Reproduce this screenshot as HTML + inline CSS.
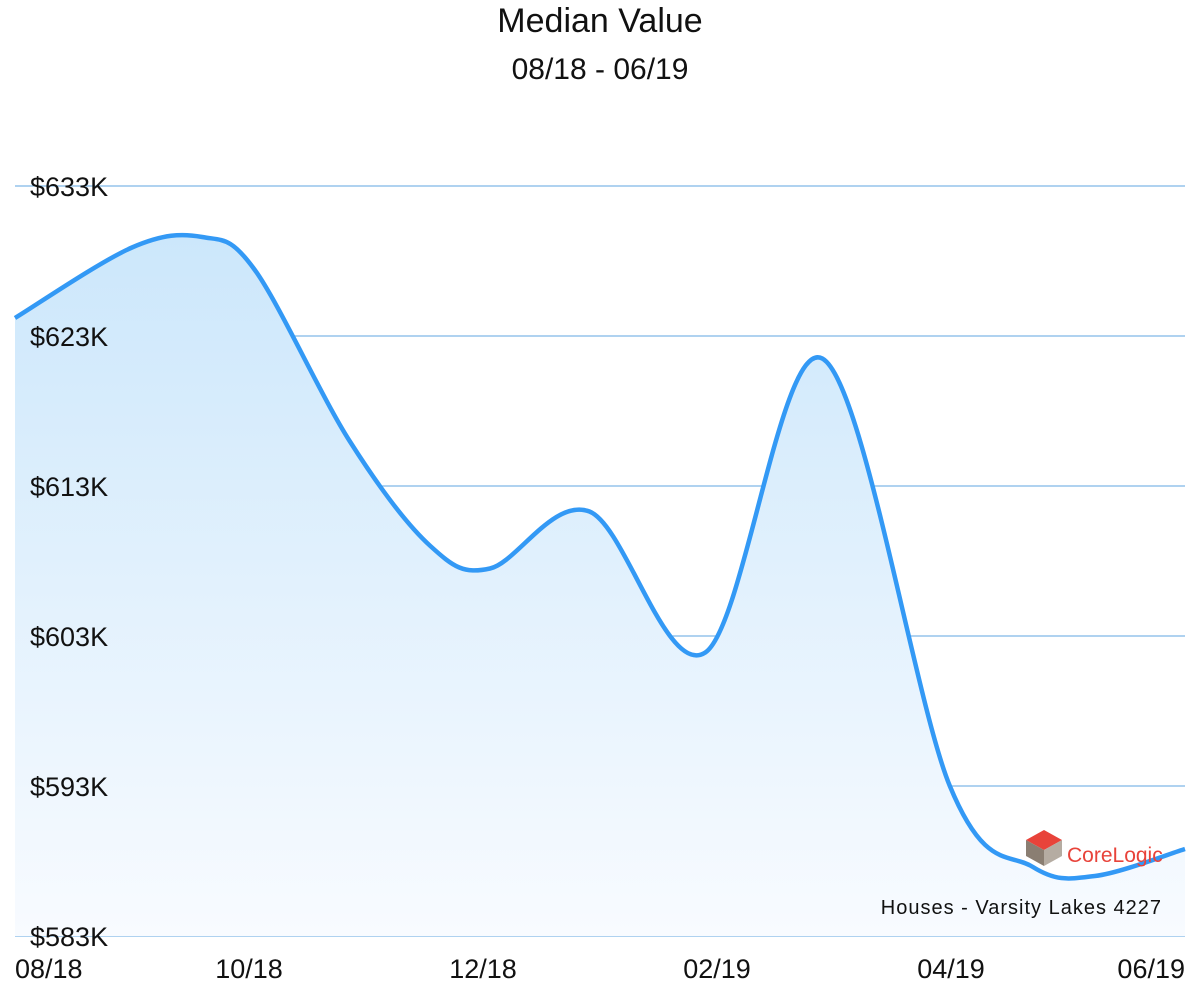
<!DOCTYPE html>
<html><head><meta charset="utf-8"><style>
body{margin:0;background:#fff;width:1200px;height:996px;overflow:hidden;font-family:"Liberation Sans",sans-serif;}
</style></head><body>
<svg width="1200" height="996" xmlns="http://www.w3.org/2000/svg">
<defs><linearGradient id="fg" x1="0" y1="0" x2="0" y2="1"><stop offset="0" stop-color="#cce7fb"/><stop offset="1" stop-color="#f8fbff"/></linearGradient></defs>
<text x="600" y="32" text-anchor="middle" font-size="34" fill="#111">Median Value</text>
<text x="600" y="79" text-anchor="middle" font-size="30" fill="#111">08/18 - 06/19</text>
<g id="grid"></g>
<path id="area" fill="url(#fg)"/>
<path id="line" fill="none" stroke="#3399f5" stroke-width="4.5"/>
<g id="ylabels"></g>
<g id="xlabels"></g>
<g>
<polygon points="1026,840 1044,830 1062,840 1044,850" fill="#e8433a"/>
<polygon points="1026,840 1044,850 1044,866 1026,856" fill="#8a7e72"/>
<polygon points="1044,850 1062,840 1062,856 1044,866" fill="#b5aca2"/>
<text x="1067" y="862" font-size="21" fill="#e8433a">CoreLogic</text>
</g>
<text x="1162" y="914" text-anchor="end" font-size="20" fill="#111" letter-spacing="1">Houses - Varsity Lakes 4227</text>
</svg>
<script>
const monthIdx=[0,1,1.6,2.05,2.86,3.55,4.06,4.91,5.9,6.9,7.99,8.7,9.23,10];
const values=[624.2,628.9,629.6,627.4,616.0,609.0,607.5,611.3,601.9,621.5,593.0,587.6,587.0,588.8];
const yTicks=[633,623,613,603,593,583];
const xTickIdx=[0,2,4,6,8,10];
const xTickLabels=["08/18","10/18","12/18","02/19","04/19","06/19"];
const NS="http://www.w3.org/2000/svg";
const x=i=>15+i*117;
const y=v=>186+(633-v)*15;
const g=document.getElementById('grid'),yl=document.getElementById('ylabels'),xl=document.getElementById('xlabels');
yTicks.forEach(t=>{
 const l=document.createElementNS(NS,'line');
 l.setAttribute('x1',15);l.setAttribute('x2',1185);l.setAttribute('y1',y(t));l.setAttribute('y2',y(t));
 l.setAttribute('stroke','#7fb8e6');l.setAttribute('stroke-width','1.2');
 
 
 g.appendChild(l);
 const tx=document.createElementNS(NS,'text');
 tx.setAttribute('x',30);tx.setAttribute('y',y(t)+10);tx.setAttribute('font-size','27');tx.setAttribute('fill','#111');
 tx.textContent='$'+t+'K';
 
 
 yl.appendChild(tx);
});
xTickIdx.forEach((m,k)=>{
 const tx=document.createElementNS(NS,'text');
 const anchor=k==0?'start':(k==xTickIdx.length-1?'end':'middle');
 tx.setAttribute('x',x(m));tx.setAttribute('y',978);tx.setAttribute('font-size','27');tx.setAttribute('fill','#111');
 tx.setAttribute('text-anchor',anchor);
 tx.textContent=xTickLabels[k];
 
 
 xl.appendChild(tx);
});
const P=monthIdx.map((m,i)=>[x(m),y(values[i])]);
let d='M'+P[0][0]+','+P[0][1];
for(let i=0;i<P.length-1;i++){
 const p0=P[Math.max(0,i-1)],p1=P[i],p2=P[i+1],p3=P[Math.min(P.length-1,i+2)];
 const t=1/6;
 const c1=[p1[0]+(p2[0]-p0[0])*t,p1[1]+(p2[1]-p0[1])*t];
 const c2=[p2[0]-(p3[0]-p1[0])*t,p2[1]-(p3[1]-p1[1])*t];
 d+=' C'+c1.join(',')+' '+c2.join(',')+' '+p2.join(',');
}
document.getElementById('line').setAttribute('d',d);
document.getElementById('area').setAttribute('d',d+' L'+P[P.length-1][0]+','+y(583)+' L'+P[0][0]+','+y(583)+' Z');
</script>
</body></html>
